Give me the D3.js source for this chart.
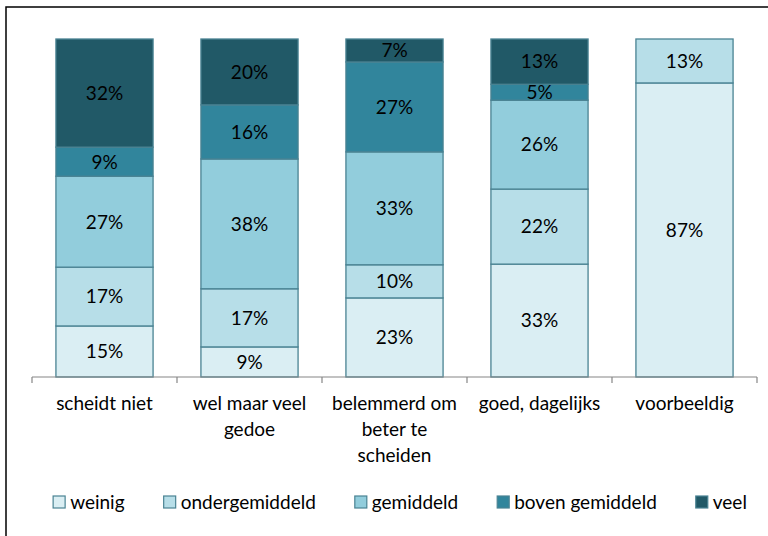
<!DOCTYPE html>
<html>
<head>
<meta charset="utf-8">
<script src="https://cdn.jsdelivr.net/npm/d3@7"></script>
<style>
  body { margin: 0; background: #fff; }
  svg { display: block; font-family: Lato, "Noto Sans", sans-serif; }
</style>
</head>
<body>
<div id="chart"></div>
<script>
const width = 768;
const height = 536;

// categories (x axis) and series (stack order, bottom to top)
const categories = ["scheidt niet", "wel maar veel gedoe", "belemmerd om beter te scheiden", "goed, dagelijks", "voorbeeldig"];
const categoryLines = [["scheidt niet"], ["wel maar veel", "gedoe"], ["belemmerd om", "beter te", "scheiden"], ["goed, dagelijks"], ["voorbeeldig"]];
const series = ["weinig", "ondergemiddeld", "gemiddeld", "boven gemiddeld", "veel"];
const colors = ["#DAEEF3", "#B7DEE8", "#92CDDC", "#31859C", "#215967"];

// percentages per series, one per category
const weinig         = [15.1,  8.9, 23.4, 33.4, 87];
const ondergemiddeld = [17.4, 17.2,  9.8, 22.2, 13];
const gemiddeld      = [26.9, 38.4, 33.4, 26.3,  0];
const bovenGemiddeld = [ 8.6, 16.0, 26.6,  4.7,  0];
const veel           = [32.0, 19.5,  6.8, 13.4,  0];

const values = [weinig, ondergemiddeld, gemiddeld, bovenGemiddeld, veel];

const table = categories.map((c, i) => {
    const row = {category: c};
    series.forEach((s, j) => row[s] = values[j][i]);
    return row;
});

const margin = {top: 39, left: 32, right: 11, bottom: 159};
const fontSize = 19;

const svg = d3.select("#chart")
    .append("svg")
        .attr("width", width)
        .attr("height", height);

// chart border
svg.append("rect")
    .attr("x", 6)
    .attr("y", 7)
    .attr("width", width)
    .attr("height", height)
    .attr("fill", "none")
    .attr("stroke", "#000")
    .attr("stroke-width", 1.5);

const x = d3.scaleBand()
    .domain(categories)
    .range([margin.left, width - margin.right])
    .paddingInner(0.33)
    .paddingOuter(0.165);

const y = d3.scaleLinear()
    .domain([0, 100])
    .range([height - margin.bottom, margin.top]);

const stack = d3.stack().keys(series)(table);

const layer = svg.append("g")
    .selectAll("g")
    .data(stack)
    .join("g")
        .attr("fill", (d, i) => colors[i]);

layer.selectAll("rect")
    .data(d => d.filter(p => p[1] - p[0] > 0))
    .join("rect")
        .attr("x", d => x(d.data.category))
        .attr("y", d => y(d[1]))
        .attr("width", x.bandwidth())
        .attr("height", d => y(d[0]) - y(d[1]))
        .attr("stroke", "#4A8393")
        .attr("stroke-width", 1.3);

// value labels
layer.selectAll("text")
    .data(d => d.filter(p => p[1] - p[0] > 0))
    .join("text")
        .attr("x", d => x(d.data.category) + x.bandwidth() / 2)
        .attr("y", d => (y(d[0]) + y(d[1])) / 2)
        .attr("dy", "0.36em")
        .attr("text-anchor", "middle")
        .attr("fill", "#000")
        .attr("font-size", fontSize)
        .text(d => Math.round(d[1] - d[0]) + "%");

// x axis with ticks between categories
const axisY = y(0);
const axis = svg.append("g").attr("stroke", "#868686").attr("stroke-width", 1.2);
axis.append("line")
    .attr("x1", margin.left).attr("x2", width - margin.right)
    .attr("y1", axisY).attr("y2", axisY);
const step = x.step();
d3.range(categories.length + 1).forEach(i => {
    const tx = margin.left + i * step;
    axis.append("line")
        .attr("x1", tx).attr("x2", tx)
        .attr("y1", axisY).attr("y2", axisY + 6);
});

svg.append("g")
    .selectAll("text")
    .data(categories)
    .join("text")
        .attr("text-anchor", "middle")
        .attr("font-size", fontSize)
        .attr("fill", "#000")
        .attr("transform", d => `translate(${x(d) + x.bandwidth() / 2},${axisY + 33})`)
        .each(function(d, i) {
            d3.select(this).selectAll("tspan")
                .data(categoryLines[i])
                .join("tspan")
                    .attr("x", 0)
                    .attr("dy", (t, k) => k === 0 ? 0 : 26)
                    .text(t => t);
        });

// legend
const legendGap = 39;
const legend = svg.append("g");
const items = legend.selectAll("g")
    .data(series)
    .join("g");
items.append("rect")
    .attr("width", 12)
    .attr("height", 12)
    .attr("y", -6)
    .attr("fill", (d, i) => colors[i])
    .attr("stroke", "#4A8393")
    .attr("stroke-width", 1.2);
items.append("text")
    .attr("x", 17)
    .attr("dy", "0.36em")
    .attr("font-size", fontSize)
    .attr("fill", "#000")
    .text(d => d);

let pos = 0;
const starts = [];
items.each(function() {
    starts.push(pos);
    pos += this.getBBox().width + legendGap;
});
const total = pos - legendGap;
const legendX = 400 - total / 2;
items.attr("transform", (d, i) => `translate(${legendX + starts[i]},502)`);
</script>
</body>
</html>
